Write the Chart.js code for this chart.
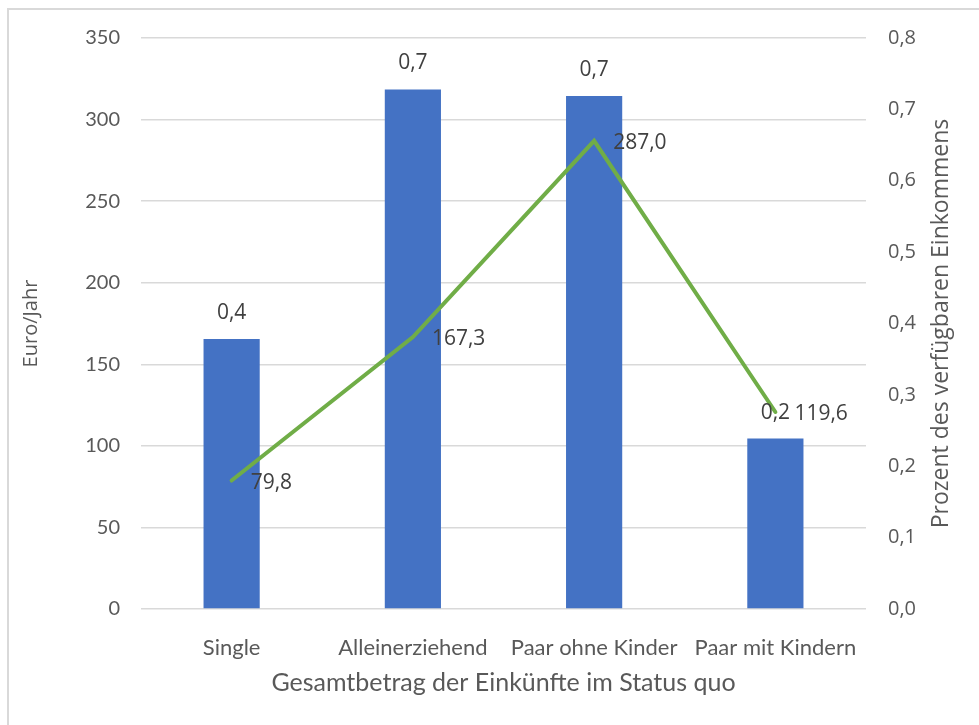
<!DOCTYPE html>
<html>
<head>
<meta charset="utf-8">
<script src="https://cdn.jsdelivr.net/npm/chart.js@4"></script>
<style>
  html, body { margin: 0; padding: 0; background: #ffffff; }
  canvas { display: block; }
</style>
</head>
<body>
<canvas id="chart" width="979" height="725"></canvas>
<script>
// data
const categories = ["Single", "Alleinerziehend", "Paar ohne Kinder", "Paar mit Kindern"];
const euroJahr = [165.5, 318.5, 314.5, 104.5];
const prozent = [0.18, 0.381, 0.656, 0.276];
const barLabels = ["0,4", "0,7", "0,7", "0,2"];
const lineLabels = ["79,8", "167,3", "287,0", "119,6"];

const grey = "#595959";
const narrowFont = "Lato, sans-serif";
const wideFont = "'Open Sans', 'Noto Sans', sans-serif";

// white background + the light frame on the left and top
const framePlugin = {
  id: "frame",
  beforeDraw(chart) {
    const ctx = chart.ctx;
    ctx.save();
    ctx.fillStyle = "#ffffff";
    ctx.fillRect(0, 0, chart.width, chart.height);
    ctx.strokeStyle = "#d9d9d9";
    ctx.lineWidth = 2;
    ctx.beginPath();
    ctx.moveTo(8, chart.height);
    ctx.lineTo(8, 9);
    ctx.lineTo(chart.width, 9);
    ctx.stroke();
    ctx.restore();
  },
};

// data labels and the right axis title (reads bottom to top)
const labelPlugin = {
  id: "labels",
  afterDatasetsDraw(chart) {
    const ctx = chart.ctx;
    ctx.save();
    ctx.font = "21px " + wideFont;
    ctx.fillStyle = "#404040";
    ctx.textBaseline = "middle";

    ctx.textAlign = "center";
    chart.getDatasetMeta(1).data.forEach((bar, i) => {
      ctx.fillText(barLabels[i], bar.x, bar.y - 26);
    });

    ctx.textAlign = "left";
    chart.getDatasetMeta(0).data.forEach((pt, i) => {
      ctx.fillText(lineLabels[i], pt.x + 19, pt.y + 2);
    });

    const area = chart.chartArea;
    ctx.translate(941, (area.top + area.bottom) / 2);
    ctx.rotate(-Math.PI / 2);
    ctx.textAlign = "center";
    ctx.fillStyle = grey;
    ctx.font = "23px " + wideFont;
    ctx.fillText("Prozent des verfügbaren Einkommens", 0, 0);
    ctx.restore();
  },
};

function draw() {
  new Chart(document.getElementById("chart"), {
    type: "bar",
    data: {
      labels: categories,
      datasets: [
        {
          type: "line",
          label: "Prozent",
          data: prozent,
          yAxisID: "y1",
          borderColor: "#70AD47",
          borderWidth: 4,
          borderCapStyle: "round",
          pointRadius: 0,
          tension: 0,
          order: 0,
        },
        {
          label: "Euro/Jahr",
          data: euroJahr,
          yAxisID: "y",
          backgroundColor: "#4472C4",
          categoryPercentage: 1,
          barPercentage: 0.31,
          order: 1,
        },
      ],
    },
    options: {
      responsive: false,
      animation: false,
      layout: { padding: { top: 38 } },
      plugins: {
        legend: { display: false },
        tooltip: { enabled: false },
      },
      scales: {
        x: {
          grid: { display: false },
          border: { display: false },
          ticks: { color: grey, font: { family: narrowFont, size: 22 }, padding: 18, maxRotation: 0 },
          title: {
            display: true,
            text: "Gesamtbetrag der Einkünfte im Status quo",
            color: grey,
            font: { family: narrowFont, size: 25 },
            padding: { top: 0, bottom: 27 },
          },
          afterFit(scale) { scale.height = 116; },
        },
        y: {
          position: "left",
          min: 0,
          max: 350,
          ticks: { stepSize: 50, color: grey, font: { family: narrowFont, size: 20 }, padding: 21 },
          grid: { color: "#d9d9d9", lineWidth: 1.5, drawTicks: false },
          border: { display: false },
          title: {
            display: true,
            text: "Euro/Jahr",
            color: grey,
            font: { family: wideFont, size: 20 },
            padding: { top: 19, bottom: 0 },
          },
          afterFit(scale) { scale.width = 141; },
        },
        y1: {
          position: "right",
          min: 0,
          max: 0.8,
          ticks: {
            stepSize: 0.1,
            color: grey,
            font: { family: wideFont, size: 20 },
            padding: 22,
            callback: (v) => v.toFixed(1).replace(".", ","),
          },
          grid: { drawOnChartArea: false, drawTicks: false },
          border: { display: false },
          afterFit(scale) { scale.width = 113; },
        },
      },
    },
    plugins: [framePlugin, labelPlugin],
  });
}

Promise.all([
  document.fonts.load("20px 'Open Sans'"),
  document.fonts.load("20px Lato"),
]).then(draw, draw);
</script>
</body>
</html>
